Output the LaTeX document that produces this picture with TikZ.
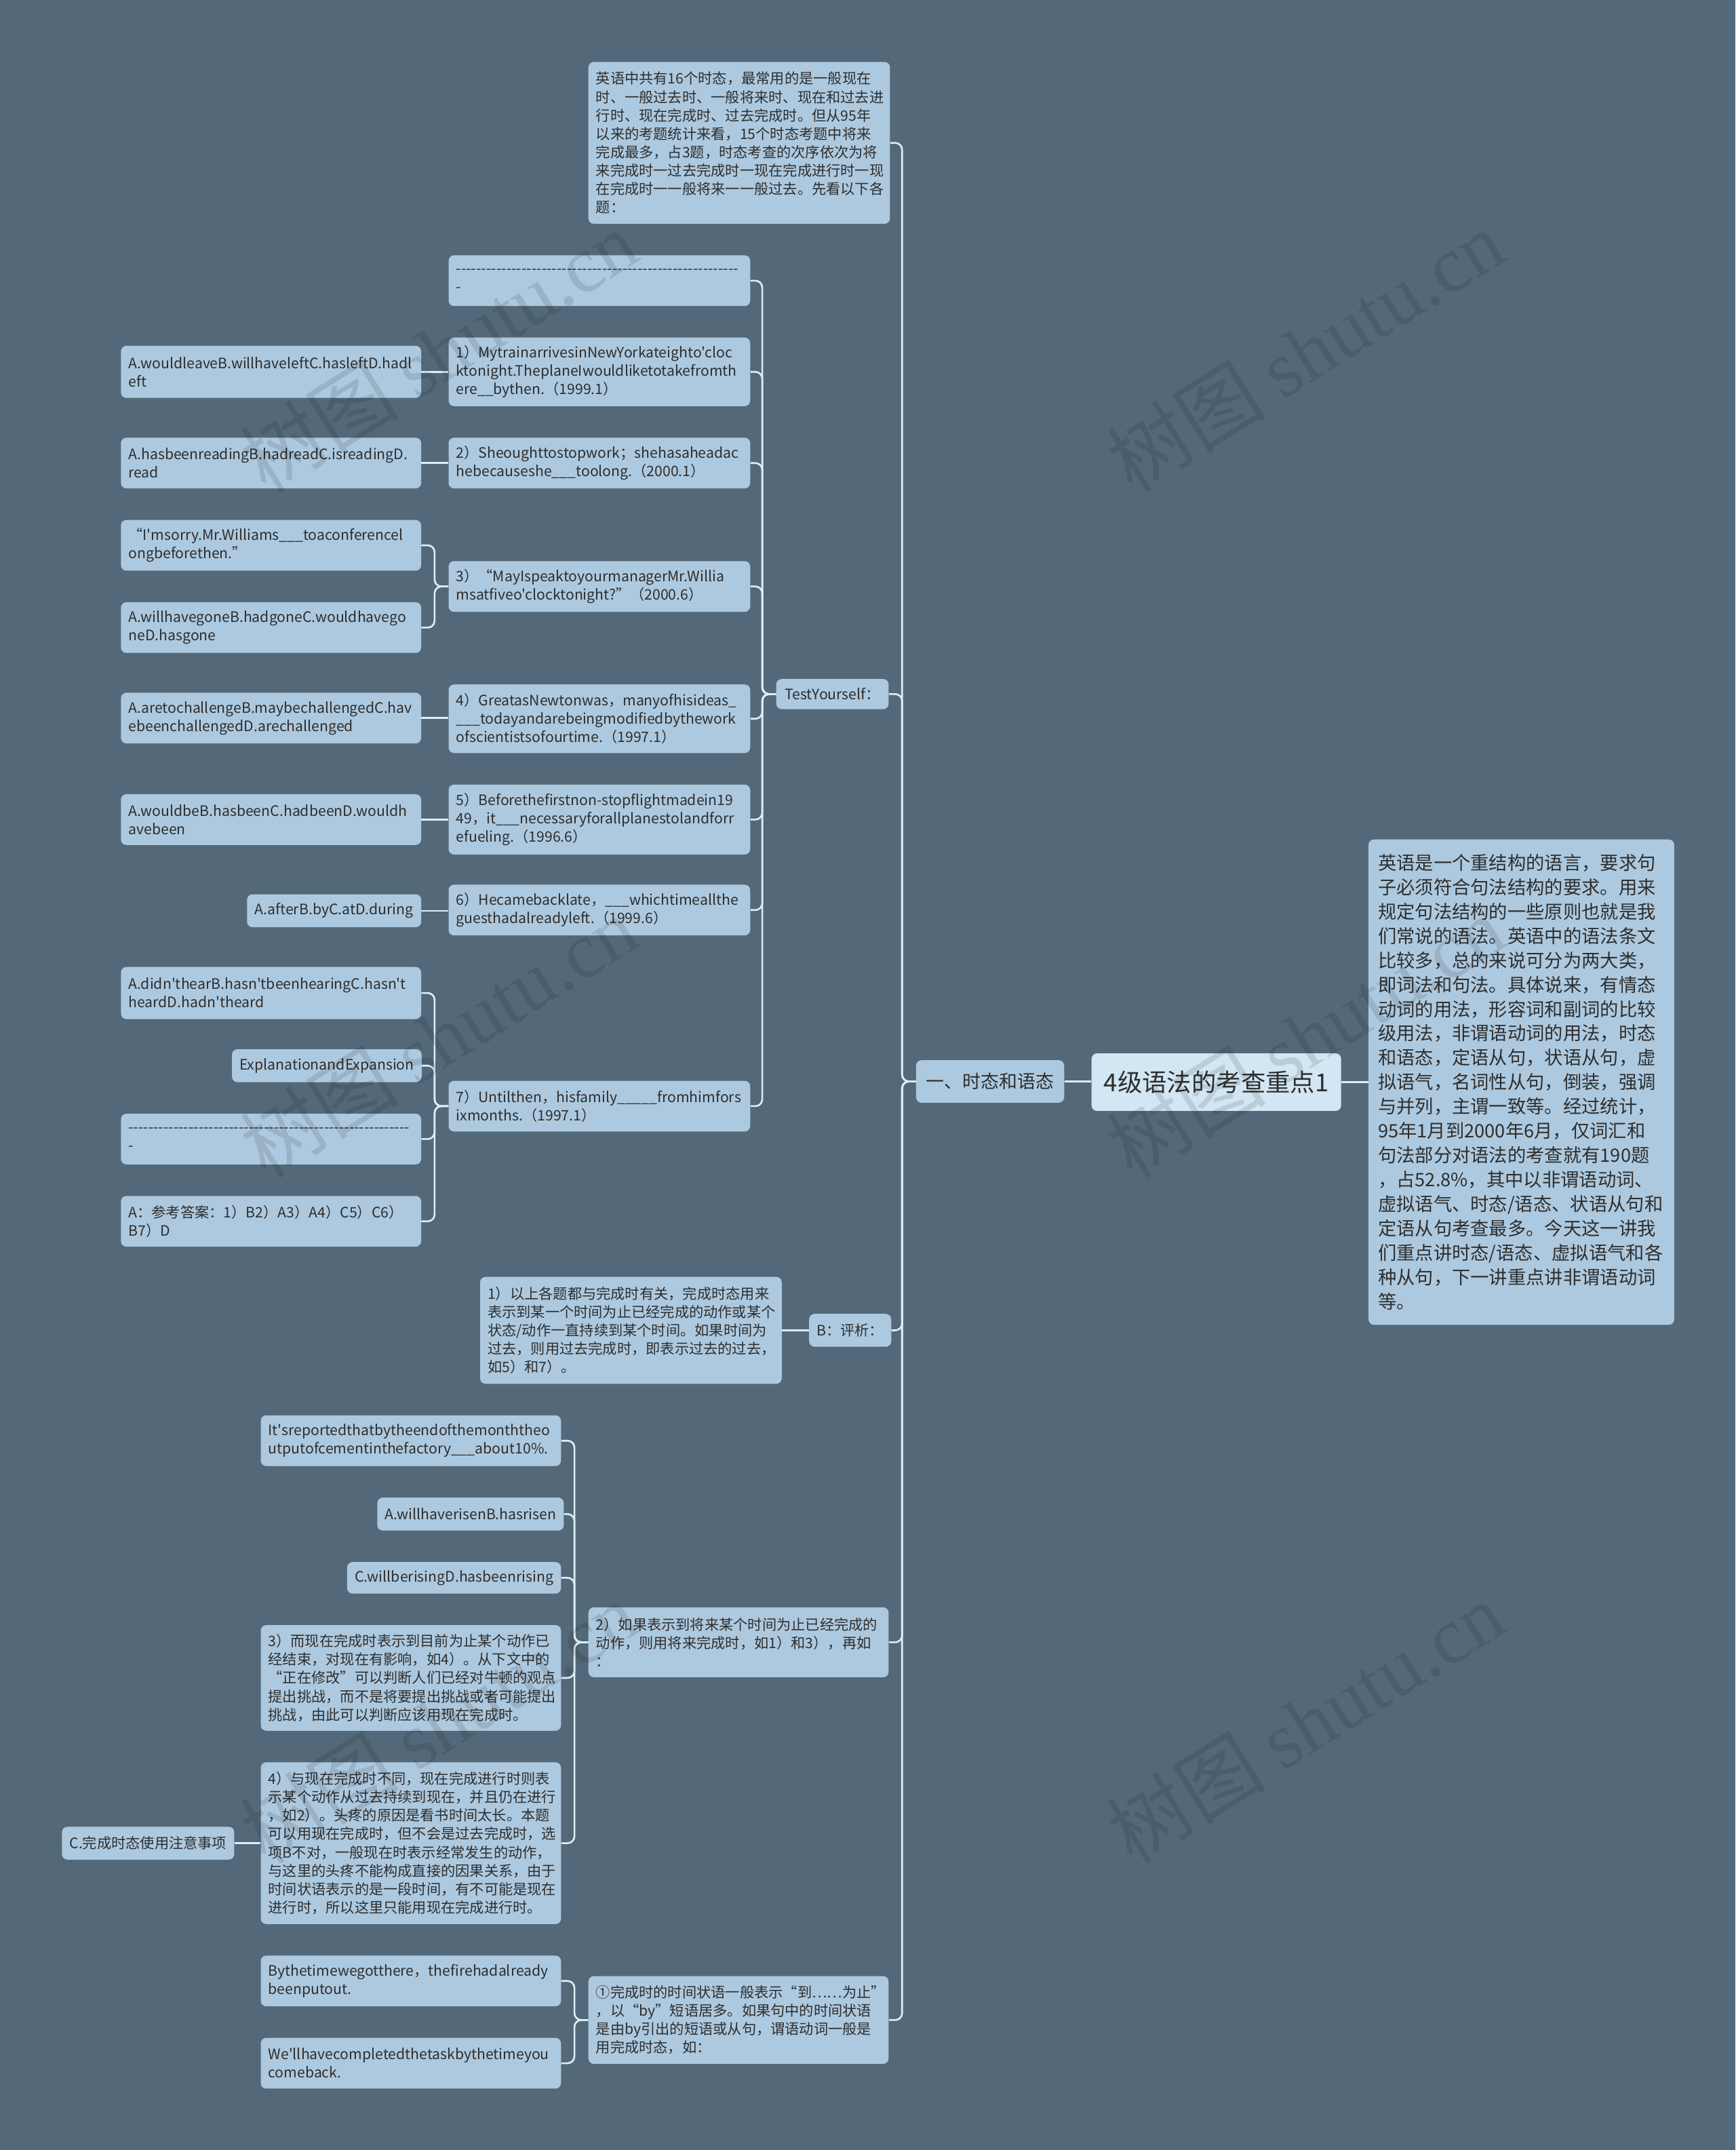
\documentclass[tikz,border=0pt]{standalone}
\usepackage{fontspec}
\setmainfont{Noto Sans CJK SC}[Ligatures=TeXOff]
\newfontfamily\wmlat{Liberation Serif}
\definecolor{bgc}{HTML}{536979}
\definecolor{boxc}{HTML}{ADC9DF}
\definecolor{rootc}{HTML}{D2E6F3}
\definecolor{connc}{HTML}{DCEEF8}
\definecolor{txtc}{HTML}{2E2E2E}
\newcommand\lnk[2]{\draw[conn] (#2.east) -| ([xshift=-10pt]#1.west) -- (#1.west);}
\newcommand\slnk[2]{\draw[conn] (#2.east) -- (#2.east -| #1.west);}
\begin{document}
\begin{tikzpicture}[x=1pt,y=-1pt,
  box/.style={fill=boxc, rounded corners=4pt, inner xsep=5.5pt, inner ysep=5pt, text=txtc, align=left, anchor=north west,
    font=\fontsize{10.5}{13.4}\selectfont\hyphenpenalty10000\exhyphenpenalty10000},
  conn/.style={draw=connc, line width=1.3pt, rounded corners=5pt},
  wm/.style={text=black, text opacity=0.11, rotate=32, font=\fontsize{58}{60}\selectfont}]
\fill[bgc] (0,0) rectangle (1266,1568);
\useasboundingbox (0,0) rectangle (1266,1568);

% root and detail
\node[box, fill=rootc, font=\fontsize{18}{22}\selectfont, minimum width=182pt, minimum height=42pt, inner xsep=8pt] (root) at (796,768) {4级语法的考查重点1};
\node[box, font=\fontsize{13.5}{17.8}\selectfont, text width=209pt, inner xsep=7pt, inner ysep=8pt, minimum height=354pt] (detail) at (998,612) {英语是一个重结构的语言，要求句\\子必须符合句法结构的要求。用来\\规定句法结构的一些原则也就是我\\们常说的语法。英语中的语法条文\\比较多，总的来说可分为两大类，\\即词法和句法。具体说来，有情态\\动词的用法，形容词和副词的比较\\级用法，非谓语动词的用法，时态\\和语态，定语从句，状语从句，虚\\拟语气，名词性从句，倒装，强调\\与并列，主谓一致等。经过统计，\\95年1月到2000年6月，仅词汇和\\句法部分对语法的考查就有190题\\，占52.8\%，其中以非谓语动词、\\虚拟语气、时态/语态、状语从句和\\定语从句考查最多。今天这一讲我\\们重点讲时态/语态、虚拟语气和各\\种从句，下一讲重点讲非谓语动词\\等。};
\node[box, font=\fontsize{13.3}{16}\selectfont, minimum width=108pt, minimum height=31pt] (L1) at (668,773) {一、时态和语态};

% level 2
\node[box, text width=209pt, minimum height=118pt] (intro) at (429,45) {英语中共有16个时态，最常用的是一般现在\\时、一般过去时、一般将来时、现在和过去进\\行时、现在完成时、过去完成时。但从95年\\以来的考题统计来看，15个时态考题中将来\\完成最多，占3题，时态考查的次序依次为将\\来完成时一过去完成时一现在完成进行时一现\\在完成时一一般将来一一般过去。先看以下各\\题：};
\node[box, minimum width=82pt, minimum height=22pt] (TY) at (566,495) {TestYourself：};
\node[box, minimum width=58pt, minimum height=24pt] (Bp) at (590,958) {B：评析：};
\node[box, text width=208pt, minimum height=51pt] (P2) at (429,1172) {2）如果表示到将来某个时间为止已经完成的\\动作，则用将来完成时，如1）和3），再如\\：};
\node[box, text width=208pt, minimum height=64pt] (P1) at (429,1441) {①完成时的时间状语一般表示“到……为止”\\，以“by”短语居多。如果句中的时间状语\\是由by引出的短语或从句，谓语动词一般是\\用完成时态，如：};

% TestYourself children
\node[box, text width=209pt, minimum height=37pt] (D1) at (327,186) {\leavevmode\hbox to 206pt{\xleaders\hbox{-}\hfill}\\-};
\node[box, text width=209pt, minimum height=50pt] (Q1) at (327,246) {1）MytrainarrivesinNewYorkateighto'cloc\\ktonight.TheplaneIwouldliketotakefromth\\ere\_\_bythen.（1999.1）};
\node[box, text width=209pt, minimum height=37pt] (Q2) at (327,319) {2）Sheoughttostopwork；shehasaheadac\\hebecauseshe\_\_\_toolong.（2000.1）};
\node[box, text width=209pt, minimum height=37pt] (Q3) at (327,409) {3）“MayIspeaktoyourmanagerMr.Willia\\msatfiveo'clocktonight?”（2000.6）};
\node[box, text width=209pt, minimum height=50pt] (Q4) at (327,499) {4）GreatasNewtonwas，manyofhisideas\_\\\_\_\_todayandarebeingmodifiedbythework\\ofscientistsofourtime.（1997.1）};
\node[box, text width=209pt, minimum height=51pt] (Q5) at (327,572) {5）Beforethefirstnon-stopflightmadein19\\49，it\_\_\_necessaryforallplanestolandforr\\efueling.（1996.6）};
\node[box, text width=209pt, minimum height=37pt] (Q6) at (327,645) {6）Hecamebacklate，\_\_\_whichtimeallthe\\guesthadalreadyleft.（1999.6）};
\node[box, text width=209pt, minimum height=37pt] (Q7) at (327,788) {7）Untilthen，hisfamily\_\_\_\_\_fromhimfors\\ixmonths.（1997.1）};

% answers
\node[box, text width=208pt, minimum height=38pt] (A1) at (88,252) {A.wouldleaveB.willhaveleftC.hasleftD.hadl\\eft};
\node[box, text width=208pt, minimum height=37pt] (A2) at (88,319) {A.hasbeenreadingB.hadreadC.isreadingD.\\read};
\node[box, text width=208pt, minimum height=37pt] (Q3a) at (88,379) {“I'msorry.Mr.Williams\_\_\_toaconferencel\\ongbeforethen.”};
\node[box, text width=208pt, minimum height=37pt] (Q3b) at (88,439) {A.willhavegoneB.hadgoneC.wouldhavego\\neD.hasgone};
\node[box, text width=208pt, minimum height=37pt] (A4) at (88,505) {A.aretochallengeB.maybechallengedC.hav\\ebeenchallengedD.arechallenged};
\node[box, text width=208pt, minimum height=37pt] (A5) at (88,579) {A.wouldbeB.hasbeenC.hadbeenD.wouldh\\avebeen};
\node[box, minimum width=127pt, minimum height=24pt] (A6) at (180,652) {A.afterB.byC.atD.during};
\node[box, text width=208pt, minimum height=38pt] (Q7a) at (88,705) {A.didn'thearB.hasn'tbeenhearingC.hasn't\\heardD.hadn'theard};
\node[box, minimum width=138pt, minimum height=24pt] (Q7b) at (169,765) {ExplanationandExpansion};
\node[box, text width=208pt, minimum height=37pt] (Q7c) at (88,812) {\leavevmode\hbox to 205pt{\xleaders\hbox{-}\hfill}\\-};
\node[box, text width=208pt, minimum height=37pt] (Q7d) at (88,872) {A：参考答案：1）B2）A3）A4）C5）C6）\\B7）D};

% B child
\node[box, text width=209pt, minimum height=78pt] (Bc) at (350,931) {1）以上各题都与完成时有关，完成时态用来\\表示到某一个时间为止已经完成的动作或某个\\状态/动作一直持续到某个时间。如果时间为\\过去，则用过去完成时，即表示过去的过去，\\如5）和7）。};

% P2 children
\node[box, text width=208pt, minimum height=37pt] (P2a) at (190,1032) {It'sreportedthatbytheendofthemonththeo\\utputofcementinthefactory\_\_\_about10\%.};
\node[box, minimum width=134pt, minimum height=24pt] (P2b) at (275,1092) {A.willhaverisenB.hasrisen};
\node[box, minimum width=156pt, minimum height=23pt] (P2c) at (253,1139) {C.willberisingD.hasbeenrising};
\node[box, text width=208pt, minimum height=77pt] (P2d) at (190,1185) {3）而现在完成时表示到目前为止某个动作已\\经结束，对现在有影响，如4）。从下文中的\\“正在修改”可以判断人们已经对牛顿的观点\\提出挑战，而不是将要提出挑战或者可能提出\\挑战，由此可以判断应该用现在完成时。};
\node[box, text width=208pt, minimum height=118pt] (P2e) at (190,1285) {4）与现在完成时不同，现在完成进行时则表\\示某个动作从过去持续到现在，并且仍在进行\\，如2）。头疼的原因是看书时间太长。本题\\可以用现在完成时，但不会是过去完成时，选\\项B不对，一般现在时表示经常发生的动作，\\与这里的头疼不能构成直接的因果关系，由于\\时间状语表示的是一段时间，有不可能是现在\\进行时，所以这里只能用现在完成进行时。};
\node[box, minimum width=124pt, minimum height=24pt] (Cn) at (45,1332) {C.完成时态使用注意事项};

% P1 children
\node[box, text width=208pt, minimum height=37pt] (P1a) at (190,1426) {Bythetimewegotthere，thefirehadalready\\beenputout.};
\node[box, text width=208pt, minimum height=37pt] (P1b) at (190,1486) {We'llhavecompletedthetaskbythetimeyou\\comeback.};

% connectors
\draw[conn] (root.east) -- (root.east -| detail.west);
\slnk{root}{L1}
\lnk{L1}{intro}
\lnk{L1}{TY}
\lnk{L1}{Bp}
\lnk{L1}{P2}
\lnk{L1}{P1}
\foreach \c in {D1,Q1,Q2,Q3,Q4,Q5,Q6,Q7} {\lnk{TY}{\c}}
\slnk{Q1}{A1}
\slnk{Q2}{A2}
\lnk{Q3}{Q3a}
\lnk{Q3}{Q3b}
\slnk{Q4}{A4}
\slnk{Q5}{A5}
\slnk{Q6}{A6}
\foreach \c in {Q7a,Q7b,Q7c,Q7d} {\lnk{Q7}{\c}}
\slnk{Bp}{Bc}
\foreach \c in {P2a,P2b,P2c,P2d,P2e} {\lnk{P2}{\c}}
\slnk{P2e}{Cn}
\lnk{P1}{P1a}
\lnk{P1}{P1b}

% watermarks
\foreach \x/\y [count=\i] in {320/256, 952/256, 320/756, 952/756, 320/1256, 952/1256}
  \node[wm] (wm\i) at (\x,\y) {树图 {\wmlat shutu.cn}};
\end{tikzpicture}
\end{document}
